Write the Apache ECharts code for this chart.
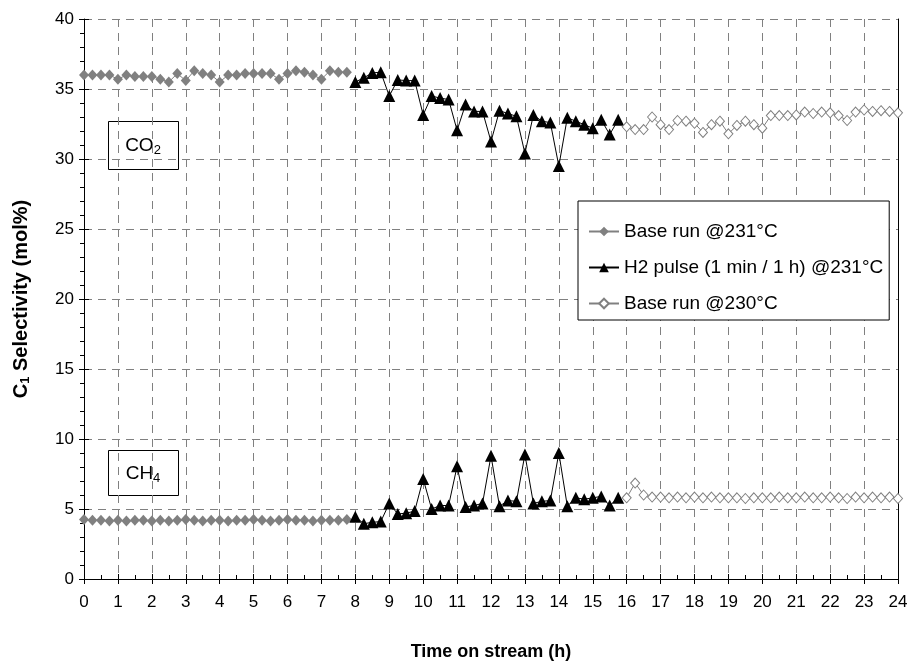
<!DOCTYPE html>
<html>
<head>
<meta charset="utf-8">
<script src="https://cdn.jsdelivr.net/npm/echarts@6/dist/echarts.min.js"></script>
<style>
html,body{margin:0;padding:0;background:#fff;}
#chart{width:914px;height:664px;}
</style>
</head>
<body>
<div id="chart"></div>
<script>
// ---- data ----
var seriesNames = ['Base run @231°C', 'H2 pulse (1 min / 1 h) @231°C', 'Base run @230°C'];
var xTickLabels = ['0','1','2','3','4','5','6','7','8','9','10','11','12','13','14','15','16','17','18','19','20','21','22','23','24'];
var yTickLabels = ['0','5','10','15','20','25','30','35','40'];

var t231 = [0,0.25,0.5,0.75,1,1.25,1.5,1.75,2,2.25,2.5,2.75,3,3.25,3.5,3.75,4,4.25,4.5,4.75,5,5.25,5.5,5.75,6,6.25,6.5,6.75,7,7.25,7.5,7.75];
var tH2 = [8,8.25,8.5,8.75,9,9.25,9.5,9.75,10,10.25,10.5,10.75,11,11.25,11.5,11.75,12,12.25,12.5,12.75,13,13.25,13.5,13.75,14,14.25,14.5,14.75,15,15.25,15.5,15.75];
var t230 = [16,16.25,16.5,16.75,17,17.25,17.5,17.75,18,18.25,18.5,18.75,19,19.25,19.5,19.75,20,20.25,20.5,20.75,21,21.25,21.5,21.75,22,22.25,22.5,22.75,23,23.25,23.5,23.75,24];

var co2_231 = [36.0,36.0,36.0,36.0,35.7,36.0,35.9,35.9,35.9,35.7,35.5,36.1,35.6,36.3,36.1,36.0,35.5,36.0,36.0,36.1,36.1,36.1,36.1,35.7,36.1,36.3,36.2,36.0,35.7,36.3,36.2,36.2];
var ch4_231 = [4.25,4.2,4.2,4.15,4.2,4.15,4.2,4.2,4.15,4.2,4.15,4.2,4.25,4.2,4.15,4.2,4.2,4.15,4.2,4.2,4.25,4.2,4.15,4.2,4.25,4.2,4.2,4.15,4.2,4.2,4.2,4.25];

var co2_H2 = [35.5,35.8,36.15,36.2,34.5,35.65,35.6,35.6,33.15,34.5,34.35,34.25,32.05,33.9,33.4,33.4,31.25,33.45,33.25,33.05,30.4,33.15,32.7,32.6,29.5,32.95,32.7,32.45,32.2,32.8,31.75,32.8];
var ch4_H2 = [4.45,3.95,4.05,4.1,5.4,4.65,4.7,4.85,7.15,5.0,5.25,5.25,8.05,5.15,5.25,5.4,8.8,5.2,5.6,5.55,8.9,5.4,5.55,5.6,9.0,5.2,5.8,5.7,5.8,5.9,5.25,5.8];

var co2_230 = [32.3,32.1,32.1,33.0,32.45,32.1,32.75,32.7,32.55,31.9,32.45,32.7,31.8,32.4,32.7,32.45,32.2,33.1,33.1,33.1,33.15,33.35,33.25,33.35,33.3,33.1,32.75,33.35,33.5,33.4,33.45,33.4,33.3];
var ch4_230 = [5.8,6.85,6.0,5.85,5.85,5.8,5.85,5.8,5.85,5.8,5.85,5.8,5.8,5.8,5.75,5.8,5.8,5.8,5.85,5.8,5.8,5.85,5.8,5.8,5.85,5.8,5.75,5.85,5.8,5.85,5.8,5.85,5.75];

function pairs(t, v){ return t.map(function(x,i){ return [x, v[i]]; }); }

var FONT = 'Liberation Sans, Arial, sans-serif';
var GRAY = '#808080';

function baseSeries(name, data, style){
  return Object.assign({
    name: name, type: 'line', data: data, xAxisIndex: 0, yAxisIndex: 0,
    animation: false, showSymbol: true
  }, style);
}

var s231 = {
  symbol: 'diamond', symbolSize: [10, 11],
  itemStyle: {color: GRAY, borderWidth: 0},
  lineStyle: {color: GRAY, width: 1}
};
var sH2 = {
  symbol: 'triangle', symbolSize: [12, 12],
  itemStyle: {color: '#000', borderWidth: 0},
  lineStyle: {color: '#000', width: 1}, z: 3
};
var s230 = {
  symbol: 'diamond', symbolSize: [9, 10],
  itemStyle: {color: '#fff', borderColor: GRAY, borderWidth: 1},
  lineStyle: {color: GRAY, width: 1}
};

var chart = echarts.init(document.getElementById('chart'), null, {renderer: 'canvas'});

var option = {
  backgroundColor: '#fff',
  animation: false,
  textStyle: {fontFamily: FONT},
  grid: {left: 84, top: 19, width: 814, height: 560, outerBoundsMode: 'none', containLabel: false},
  legend: {
    orient: 'vertical', left: 578, top: 201,
    padding: [21, 6, 7, 10],
    itemWidth: 30, itemHeight: 12, itemGap: 17,
    borderColor: '#000', borderWidth: 1, backgroundColor: '#fff',
    textStyle: {fontSize: 19, color: '#000', fontFamily: FONT},
    data: seriesNames
  },
  xAxis: [
    {
      type: 'value', min: 0, max: 24, interval: 1, position: 'bottom',
      axisLine: {show: true, lineStyle: {color: '#000', width: 1}},
      axisTick: {show: true, inside: false, length: 5, lineStyle: {color: '#000'}},
      axisLabel: {fontSize: 17, color: '#000', margin: 15, fontFamily: FONT,
        formatter: function(v){ return xTickLabels[Math.round(v)]; }},
      splitLine: {show: true, lineStyle: {color: GRAY, type: [8, 6], width: 1}},
      name: 'Time on stream (h)', nameLocation: 'middle', nameGap: 64,
      nameTextStyle: {fontSize: 18, fontWeight: 'bold', color: '#000', fontFamily: FONT}
    },
    {
      type: 'value', min: 0, max: 24, interval: 1, position: 'bottom',
      axisLine: {show: false},
      axisTick: {show: true, inside: true, length: 5, lineStyle: {color: '#000'}},
      minorTick: {show: true, splitNumber: 2, length: 4, lineStyle: {color: '#000'}},
      axisLabel: {show: false}, splitLine: {show: false}
    }
  ],
  yAxis: [
    {
      type: 'value', min: 0, max: 40, interval: 5, position: 'left',
      axisLine: {show: true, lineStyle: {color: '#000', width: 1}},
      axisTick: {show: true, inside: false, length: 5, lineStyle: {color: '#000'}},
      minorTick: {show: true, splitNumber: 5, length: 4, lineStyle: {color: '#000'}},
      axisLabel: {fontSize: 17, color: '#000', margin: 10, fontFamily: FONT,
        formatter: function(v){ return yTickLabels[Math.round(v / 5)]; }},
      splitLine: {show: true, lineStyle: {color: GRAY, type: [8, 6], width: 1}},
      name: '{b|C}{s|1}{b| Selectivity (mol%)}', nameLocation: 'middle', nameGap: 52, nameRotate: 90,
      nameTextStyle: {
        color: '#000', fontFamily: FONT,
        rich: {
          b: {fontSize: 20, fontWeight: 'bold', color: '#000', fontFamily: FONT},
          s: {fontSize: 13, fontWeight: 'bold', color: '#000', fontFamily: FONT, padding: [9, 0, 0, 0]}
        }
      }
    },
    {
      type: 'value', min: 0, max: 40, interval: 5, position: 'left',
      axisLine: {show: false},
      axisTick: {show: true, inside: true, length: 5, lineStyle: {color: '#000'}},
      axisLabel: {show: false}, splitLine: {show: false}
    },
    {
      type: 'value', min: 0, max: 40, interval: 5, position: 'right',
      axisLine: {show: true, lineStyle: {color: '#000', width: 1}},
      axisTick: {show: false}, axisLabel: {show: false}, splitLine: {show: false}
    }
  ],
  graphic: [
    {
      type: 'group', x: 108, y: 121, z: 10,
      children: [
        {type: 'rect', shape: {x: 0.5, y: 0.5, width: 70, height: 48}, style: {fill: '#fff', stroke: '#000', lineWidth: 1}},
        {type: 'text', x: 35, y: 25, style: {
          text: '{a|CO}{b|2}', align: 'center', verticalAlign: 'middle', fill: '#000',
          rich: {a: {fontSize: 19, fontFamily: FONT, fill: '#000'}, b: {fontSize: 13, fontFamily: FONT, fill: '#000', padding: [9, 0, 0, 0]}}
        }}
      ]
    },
    {
      type: 'group', x: 108, y: 450, z: 10,
      children: [
        {type: 'rect', shape: {x: 0.5, y: 0.5, width: 70, height: 45}, style: {fill: '#fff', stroke: '#000', lineWidth: 1}},
        {type: 'text', x: 35, y: 24, style: {
          text: '{a|CH}{b|4}', align: 'center', verticalAlign: 'middle', fill: '#000',
          rich: {a: {fontSize: 19, fontFamily: FONT, fill: '#000'}, b: {fontSize: 13, fontFamily: FONT, fill: '#000', padding: [9, 0, 0, 0]}}
        }}
      ]
    }
  ],
  series: [
    baseSeries(seriesNames[0], pairs(t231, co2_231), s231),
    baseSeries(seriesNames[0], pairs(t231, ch4_231), s231),
    baseSeries(seriesNames[1], pairs(tH2, co2_H2), sH2),
    baseSeries(seriesNames[1], pairs(tH2, ch4_H2), sH2),
    baseSeries(seriesNames[2], pairs(t230, co2_230), s230),
    baseSeries(seriesNames[2], pairs(t230, ch4_230), s230)
  ]
};
chart.setOption(option);
</script>
</body>
</html>
